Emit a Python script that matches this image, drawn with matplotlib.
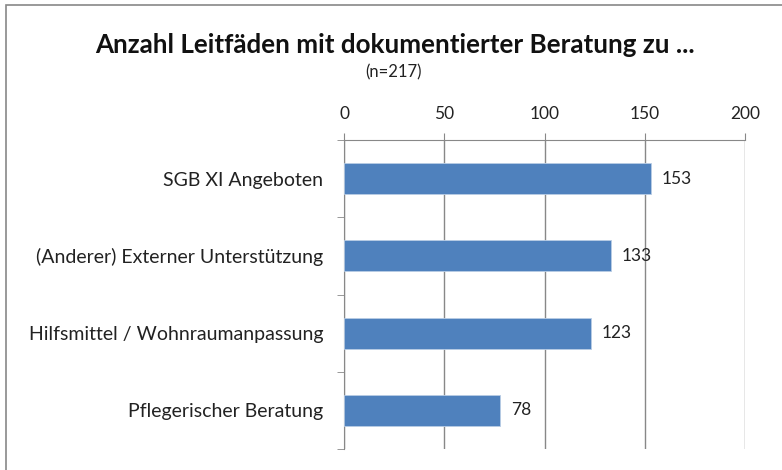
import matplotlib
matplotlib.use('Agg')
import matplotlib.pyplot as plt
from matplotlib.patches import Rectangle

# Daten
kategorien = ['SGB XI Angeboten', '(Anderer) Externer Unterstützung',
              'Hilfsmittel / Wohnraumanpassung', 'Pflegerischer Beratung']
anzahl = [153, 133, 123, 78]
x_ticks = [0, 50, 100, 150, 200]

plt.rcParams['font.family'] = ['Lato', 'DejaVu Sans']

fig = plt.figure(figsize=(7.82, 4.70), dpi=100)
ax = fig.add_axes([344/782, 1 - 449/470, 401/782, 309/470])

pos = list(range(len(kategorien)))
ax.barh(pos, anzahl, height=0.4, color='#4F81BD', edgecolor='#B9CDE5', linewidth=0.6, zorder=3)
for p, v in zip(pos, anzahl):
    ax.text(v + 5.5, p, str(v), va='center', ha='left', fontsize=12.5, color='#222222', zorder=4)

ax.set_xlim(0, 200)
ax.set_ylim(len(kategorien) - 0.5, -0.5)
ax.set_xticks(x_ticks)
ax.xaxis.tick_top()
ax.tick_params(axis='x', length=5, color='#888888', labelsize=12.5, pad=8, labelcolor='#222222')
ax.set_yticks(pos)
ax.set_yticklabels(kategorien)
ax.tick_params(axis='y', which='major', length=0, labelsize=14, pad=15, labelcolor='#222222')
ax.set_yticks([p - 0.5 for p in pos] + [len(kategorien) - 0.5], minor=True)
ax.tick_params(axis='y', which='minor', length=5, color='#888888')
ax.grid(axis='x', color='#888888', linewidth=1, zorder=0)

for s in ['right', 'bottom']:
    ax.spines[s].set_visible(False)
for s in ['left', 'top']:
    ax.spines[s].set_color('#888888')

fig.text(395/782, 1 - 45/470, 'Anzahl Leitfäden mit dokumentierter Beratung zu ...',
         ha='center', va='center', fontsize=18.7, fontweight='bold', color='#111111')
fig.text(393/782, 1 - 72/470, '(n=217)', ha='center', va='center', fontsize=12, color='#222222')

# Rahmen
fig.patches.append(Rectangle((6/782, -0.1), 1.2, 1.1 - 5/470, transform=fig.transFigure,
                             fill=False, edgecolor='#888888', linewidth=1.2))

fig.savefig('out.png', dpi=100)
